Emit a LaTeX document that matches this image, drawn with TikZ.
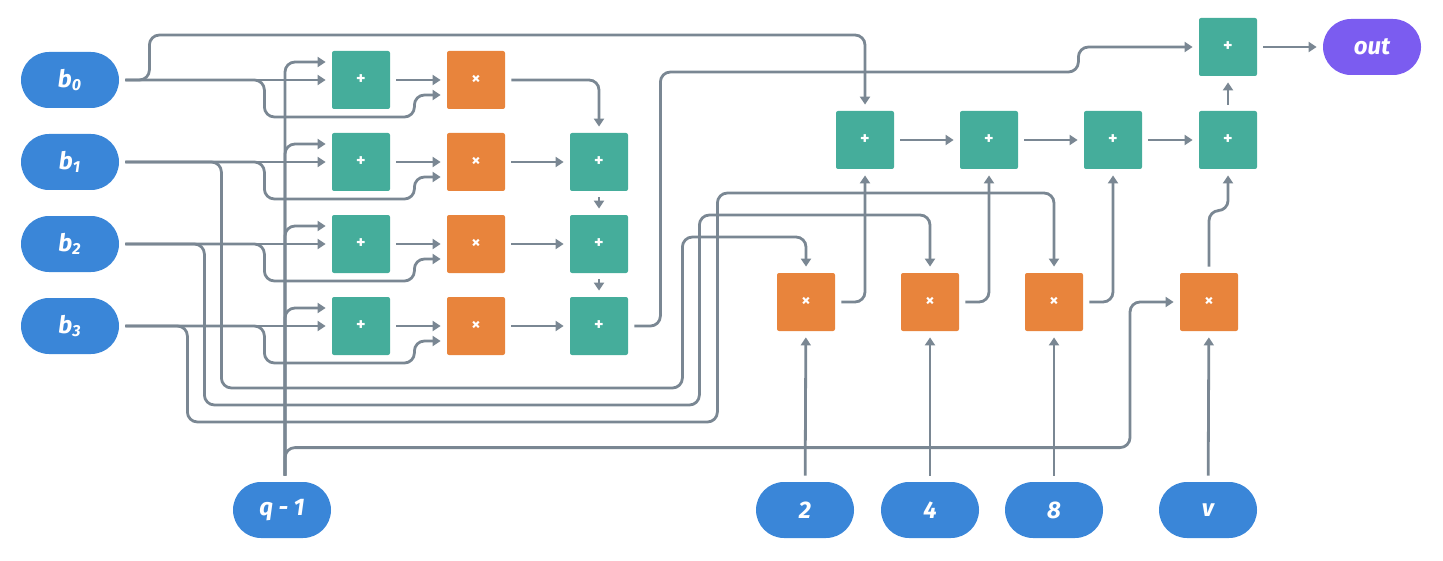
\documentclass[tikz,border=0pt]{standalone}
\usepackage{fontspec}
\setmainfont{Fira Sans}
\usetikzlibrary{arrows.meta}
\definecolor{wirec}{HTML}{7A8793}
\definecolor{addc}{HTML}{45AD9B}
\definecolor{mulc}{HTML}{E8843C}
\definecolor{inc}{HTML}{3A86D8}
\definecolor{outc}{HTML}{7B5CF0}
\tikzset{
  box/.style={minimum width=29pt,minimum height=29pt,rounded corners=1pt,text=white,font=\bfseries\small},
  add/.style={box,fill=addc},
  mul/.style={box,fill=mulc},
  inp/.style={minimum width=49pt,minimum height=28pt,rounded corners=14pt,fill=inc,text=white,font=\bfseries\itshape\large},
  wire/.style={draw=wirec,line width=1.4pt,rounded corners=5pt,-{Triangle[length=4pt,width=5pt]},shorten >=3pt,shorten <=3pt},
}
\begin{document}
\begin{tikzpicture}[x=0.5pt,y=-0.5pt]
    \useasboundingbox (0,0) rectangle (1443,561);

    % left half
    \foreach \i/\y in {0/80,1/162,2/244,3/326}{
        \node[inp] (b\i) at (70,\y) {b\textsubscript{\i}};
        \node[add] (a\i) at (361,\y) {+};
        \node[mul] (m\i) at (476,\y) {×};
        \draw[wire] (b\i) -- (a\i);
        \draw[wire] (a\i) -- (m\i);
        \draw[wire] (b\i.east) -- ++(145,0) -- ++(0,37) -- ++(150,0) -- ++(0,-22) -- ([yshift=-7.5pt]m\i.west);
    }
    \foreach \i/\y in {1/162,2/244,3/326}{
        \node[add] (s\i) at (599,\y) {+};
        \draw[wire] (m\i) -- (s\i);
    }
    \draw[wire] (m0.east) -| (s1.north);
    \draw[wire] (s1) -- (s2);
    \draw[wire] (s2) -- (s3);

    \node[inp] (q) at (282,510) {q - 1};
    \foreach \i in {0,...,3}{
        \draw[wire] ([xshift=1.5pt]q.north) |- ([yshift=9pt]a\i.west);
    }

    % right half
    \node[add] (c0) at (865,140) {+};
    \node[add] (c1) at (989,140) {+};
    \node[add] (c2) at (1113,140) {+};
    \node[add] (c3) at (1228,140) {+};
    \node[add] (t) at (1228,47) {+};
    \node[inp,fill=outc] (out) at (1372,47) {out};
    \node[mul] (m2) at (806,302) {×};
    \node[mul] (m4) at (930,302) {×};
    \node[mul] (m8) at (1054,302) {×};
    \node[mul] (mv) at (1209,302) {×};
    \node[inp] (k2) at (805,510) {2};
    \node[inp] (k4) at (930,510) {4};
    \node[inp] (k8) at (1054,510) {8};
    \node[inp] (kv) at (1208,510) {v};

    \draw[wire] (c0) -- (c1);
    \draw[wire] (c1) -- (c2);
    \draw[wire] (c2) -- (c3);
    \draw[wire] (c3) -- (t);
    \draw[wire] (t) -- (out);
    \draw[wire] (m2.east) -| (c0.south);
    \draw[wire] (m4.east) -| (c1.south);
    \draw[wire] (m8.east) -| (c2.south);
    \draw[wire] (mv.north) -- ++(0,-62) -| (c3.south);
    \draw[wire] (k2) -- (m2);
    \draw[wire] (k4) -- (m4);
    \draw[wire] (k8) -- (m8);
    \draw[wire] (kv) -- (mv);

    % long wires
    \draw[wire] (b0.east) -- ++(30,0) -- ++(0,-45) -| (c0.north);
    \draw[wire] (s3.east) -- ++(32,0) -- ++(0,-254) -- ++(418,0) |- (t.west);
    \draw[wire] (b1.east) -- ++(102,0) -- ++(0,226) -- ++(461,0) -- ++(0,-151) -| (m2.north);
    \draw[wire] (b2.east) -- ++(85,0) -- ++(0,161) -- ++(495,0) -- ++(0,-190) -| (m4.north);
    \draw[wire] (b3.east) -- ++(68,0) -- ++(0,96) -- ++(530,0) -- ++(0,-229) -| (m8.north);
    \draw[wire] ([xshift=1.5pt]q.north) -- ++(0,-34) -- ++(845,0) |- (mv.west);
\end{tikzpicture}
\end{document}
